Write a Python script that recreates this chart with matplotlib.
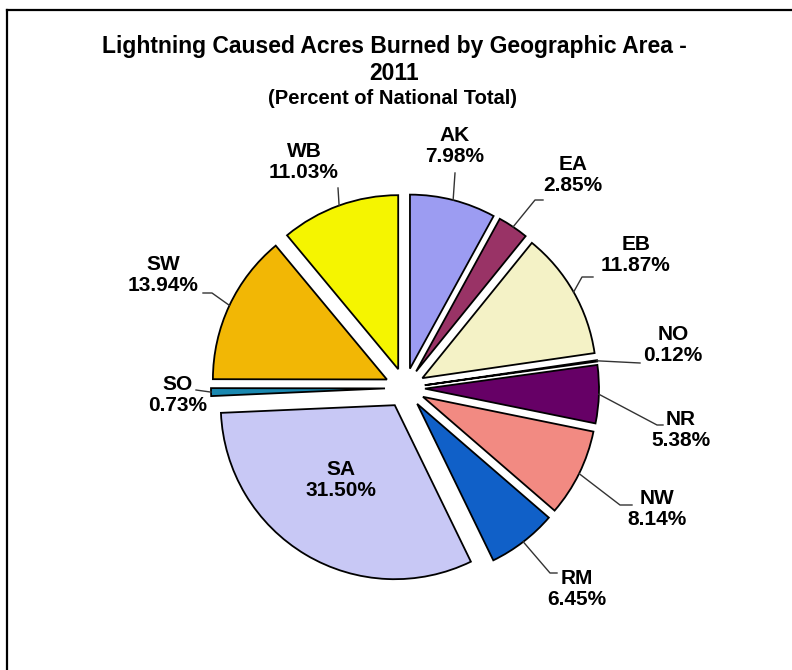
import matplotlib
matplotlib.use("Agg")
import matplotlib.pyplot as plt
import numpy as np
from matplotlib.lines import Line2D

plt.rcParams["font.family"] = ["Liberation Sans", "DejaVu Sans"]

# data
areas = ["AK", "EA", "EB", "NO", "NR", "NW", "RM", "SA", "SO", "SW", "WB"]
percents = [7.98, 2.85, 11.87, 0.12, 5.38, 8.14, 6.45, 31.50, 0.73, 13.94, 11.03]
colors = ["#9C9CF2", "#993366", "#F4F2C6", "#CCFFFF", "#660066", "#F28A82",
          "#1060C8", "#C8C8F5", "#1A88B0", "#F2B705", "#F5F500"]

W, H = 792, 670

# label layout in pixels from top-left: text centre, leader elbow, leader end
label_pos = {
    "AK": (455, 146), "EA": (573, 175), "EB": (636, 255), "NO": (673, 345),
    "NR": (681, 430), "NW": (657, 509), "RM": (577, 589), "SA": (341, 480),
    "SO": (178, 395), "SW": (163, 275), "WB": (304, 162),
}
leaders = {
    "AK": [(455, 173)],
    "WB": [(338, 188)],
    "EA": [(535, 200), (543, 200)],
    "EB": [(582, 277), (593, 277)],
    "NO": [(640, 363)],
    "NR": [(657, 425), (663, 425)],
    "NW": [(620, 505), (632, 505)],
    "RM": [(550, 573), (557, 573)],
    "SO": [(196, 390)],
    "SW": [(212, 293), (203, 293)],
}

fig = plt.figure(figsize=(W / 100, H / 100), dpi=100)
ax = fig.add_axes([0, 0, 1, 1])

# explode is in data units here (radius is in pixels)
wedges, _ = ax.pie(percents, colors=colors, startangle=90, counterclock=False,
                   explode=[20] * len(percents), radius=174,
                   center=(405, H - 388),
                   wedgeprops=dict(edgecolor="black", linewidth=1.3))
ax.set_xlim(0, W)
ax.set_ylim(0, H)
ax.axis("off")

for w, name, val in zip(wedges, areas, percents):
    lx, ly = label_pos[name]
    ax.text(lx, H - ly, f"{name}\n{val:.2f}%", ha="center", va="center",
            fontsize=15, fontweight="bold", linespacing=1.15)
    if name in leaders:
        mid = np.deg2rad((w.theta1 + w.theta2) / 2)
        sx = w.center[0] + w.r * np.cos(mid)
        sy = w.center[1] + w.r * np.sin(mid)
        xs = [sx] + [p[0] for p in leaders[name]]
        ys = [sy] + [H - p[1] for p in leaders[name]]
        ax.plot(xs, ys, color="#333333", lw=1.0)

fig.text(394 / W, 1 - 47 / H, "Lightning Caused Acres Burned by Geographic Area -",
         ha="center", va="center", fontsize=16.5, fontweight="bold")
fig.text(394 / W, 1 - 73 / H, "2011", ha="center", va="center",
         fontsize=16.5, fontweight="bold")
fig.text(392 / W, 1 - 99 / H, "(Percent of National Total)", ha="center",
         va="center", fontsize=14.5, fontweight="bold")

# chart border (cut off at right and bottom)
fig.add_artist(Line2D([7 / W, 7 / W], [0, 1 - 10 / H], color="black", lw=1.6))
fig.add_artist(Line2D([7 / W, 1], [1 - 10 / H, 1 - 10 / H], color="black", lw=1.6))

fig.savefig("out.png", dpi=100)
